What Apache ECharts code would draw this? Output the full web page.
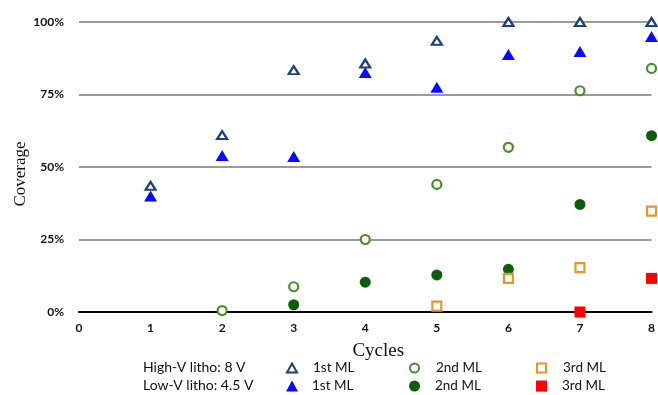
<!DOCTYPE html>
<html>
<head>
<meta charset="utf-8">
<script src="https://cdn.jsdelivr.net/npm/echarts@6/dist/echarts.min.js"></script>
<style>html,body{margin:0;padding:0;background:#fff}#c{width:658px;height:395px}</style>
</head>
<body>
<div id="c"></div>
<script>
const cyclesHigh1 = [1, 2, 3, 4, 5, 6, 7, 8];
const highV1st = [0.435, 0.61, 0.834, 0.857, 0.935, 1.0, 1.0, 1.0];
const cyclesLow1 = [1, 2, 3, 4, 5, 6, 7, 8];
const lowV1st = [0.40, 0.54, 0.536, 0.826, 0.775, 0.888, 0.898, 0.95];
const cyclesHigh2 = [2, 3, 4, 5, 6, 7, 8];
const highV2nd = [0.005, 0.087, 0.25, 0.44, 0.568, 0.763, 0.84];
const cyclesLow2 = [3, 4, 5, 6, 7, 8];
const lowV2nd = [0.025, 0.103, 0.128, 0.147, 0.371, 0.608];
const cyclesHigh3 = [5, 6, 7, 8];
const highV3rd = [0.02, 0.116, 0.153, 0.348];
const cyclesLow3 = [7, 8];
const lowV3rd = [0.0, 0.116];
const xTicks = [0, 1, 2, 3, 4, 5, 6, 7, 8];
const yTicks = ['0%', '25%', '50%', '75%', '100%'];
const rowLabels = ['High-V litho: 8 V', 'Low-V litho: 4.5 V'];
const yTitle = 'Coverage';
const xTitle = 'Cycles';

const pair = (xs, ys) => xs.map((x, i) => [x, ys[i]]);

const chart = echarts.init(document.getElementById('c'), null, {renderer: 'canvas'});

const seriesDefs = [
  {name: 'H|1st ML', data: pair(cyclesHigh1, highV1st), symbol: 'triangle', symbolSize: [10, 8],
   itemStyle: {color: '#ffffff', borderColor: '#1d3f7c', borderWidth: 2.2, opacity: 1}},
  {name: 'L|1st ML', data: pair(cyclesLow1, lowV1st), symbol: 'triangle', symbolSize: [13, 11],
   itemStyle: {color: '#0a0aff', opacity: 1}},
  {name: 'H|2nd ML', data: pair(cyclesHigh2, highV2nd), symbol: 'circle', symbolSize: 9,
   itemStyle: {color: '#ffffff', borderColor: '#4a8c2e', borderWidth: 2.2, opacity: 1}},
  {name: 'L|2nd ML', data: pair(cyclesLow2, lowV2nd), symbol: 'circle', symbolSize: 11,
   itemStyle: {color: '#0b5e0b', opacity: 1}},
  {name: 'H|3rd ML', data: pair(cyclesHigh3, highV3rd), symbol: 'rect', symbolSize: 9,
   itemStyle: {color: '#ffffff', borderColor: '#e8952f', borderWidth: 2.2, opacity: 1}},
  {name: 'L|3rd ML', data: pair(cyclesLow3, lowV3rd), symbol: 'rect', symbolSize: 11,
   itemStyle: {color: '#ff0000', opacity: 1}}
];

const legendPos = [
  [286, 361], [286, 379],
  [409, 361], [409, 379],
  [536, 361], [536, 379]
];
const iconSize = [[10, 9], [12, 11], [9, 9], [11, 11], [9, 9], [11, 11]];

const legends = seriesDefs.map((s, i) => ({
  data: [s.name],
  left: legendPos[i][0],
  top: legendPos[i][1],
  itemWidth: iconSize[i][0],
  itemHeight: iconSize[i][1],
  padding: 0,
  selectedMode: false,
  formatter: n => n.split('|')[1],
  textStyle: {fontFamily: 'Lato', fontSize: 13.5, color: '#111', padding: [0, 0, 0, 21 - iconSize[i][0]]}
}));

chart.setOption({
  animation: false,
  backgroundColor: '#ffffff',
  grid: {left: 79, right: 3, top: 22, bottom: 83, containLabel: false},
  xAxis: {
    type: 'value', min: 0, max: 8, interval: 1,
    name: xTitle, nameLocation: 'middle', nameGap: 30,
    nameTextStyle: {fontFamily: 'Liberation Serif', fontSize: 19, color: '#111', padding: [0, 0, 0, 26]},
    axisLine: {show: true, onZero: false, lineStyle: {color: '#000', width: 2.2}},
    axisTick: {show: false},
    splitLine: {show: false},
    axisLabel: {margin: 10, fontFamily: 'Lato', fontWeight: 'bold', fontSize: 12, color: '#111',
      formatter: v => String(xTicks[v])}
  },
  yAxis: {
    type: 'value', min: 0, max: 1, interval: 0.25,
    axisLine: {show: false},
    axisTick: {show: false},
    splitLine: {show: true, lineStyle: {color: '#9a9a9a', width: 1.8}},
    axisLabel: {margin: 15, fontFamily: 'Lato', fontWeight: 'bold', fontSize: 12, color: '#111',
      formatter: v => yTicks[Math.round(v / 0.25)]}
  },
  legend: legends,
  graphic: [
    {type: 'text', x: 21, y: 174, rotation: Math.PI / 2,
     style: {text: yTitle, font: '17px "Liberation Serif"', fill: '#111', align: 'center', verticalAlign: 'middle'}},
    {type: 'text', left: 143, top: 360, style: {text: rowLabels[0], font: '14px Lato', fill: '#111'}},
    {type: 'text', left: 143, top: 378, style: {text: rowLabels[1], font: '14px Lato', fill: '#111'}}
  ],
  series: seriesDefs.map(s => Object.assign({type: 'scatter', clip: false}, s))
});
</script>
</body>
</html>
